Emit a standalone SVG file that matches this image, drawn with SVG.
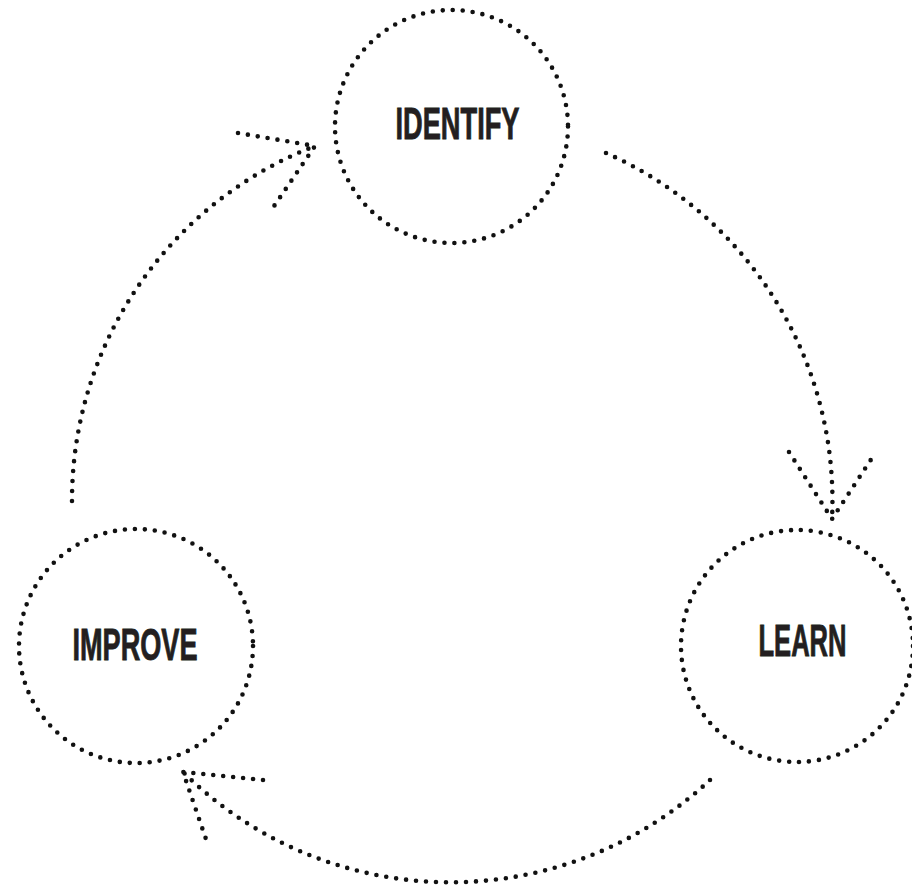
<svg xmlns="http://www.w3.org/2000/svg" width="912" height="886" viewBox="0 0 912 886">
<style>
.dot{fill:none;stroke:#111111;stroke-width:4.6;stroke-linecap:round;stroke-dasharray:0 10;}
.lbl{font-family:"Liberation Sans",Arial,sans-serif;font-weight:bold;font-size:44.5px;fill:#231f20;stroke:#231f20;stroke-width:0.9;text-anchor:middle;}
</style>
<rect width="912" height="886" fill="#ffffff"/>
<g id="node-identify">
<circle class="dot" cx="451.5" cy="126.5" r="116.5"/>
<text class="lbl" x="457.5" y="139" textLength="124" lengthAdjust="spacingAndGlyphs">IDENTIFY</text>
</g>
<g id="node-learn">
<circle class="dot" cx="797" cy="646" r="116"/>
<text class="lbl" x="802.5" y="656" textLength="88" lengthAdjust="spacingAndGlyphs">LEARN</text>
</g>
<g id="node-improve">
<circle class="dot" cx="136" cy="646" r="117"/>
<text class="lbl" x="135" y="660" textLength="125" lengthAdjust="spacingAndGlyphs">IMPROVE</text>
</g>
<g id="connectors">
<path class="dot" d="M606,153 A380,380 0 0 1 832,519"/>
<path class="dot" d="M789,452 L832,519 L874,455"/>
<path class="dot" d="M710,780 A380,380 0 0 1 183,772"/>
<path class="dot" d="M263,780 L183,772 L208,845"/>
<path class="dot" d="M72,501 A380,380 0 0 1 315,146"/>
<path class="dot" d="M238,133 L315,146 L270,212"/>
</g>
</svg>
